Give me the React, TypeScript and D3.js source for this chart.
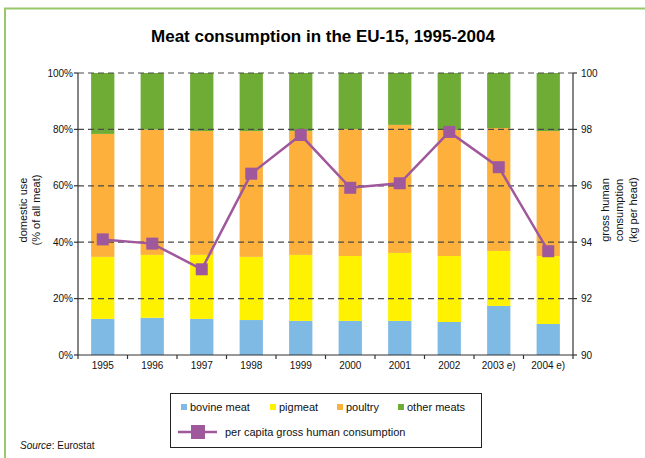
import React from "react";
import * as d3 from "d3";

const years = ["1995", "1996", "1997", "1998", "1999", "2000", "2001", "2002", "2003 e)", "2004 e)"];
// shares of all meat, %
const bovine = [12.8, 13.2, 12.8, 12.4, 12.1, 12.1, 12.1, 11.7, 17.4, 11.0];
const pigmeat = [22.0, 22.3, 22.7, 22.4, 23.4, 23.0, 24.1, 23.4, 19.5, 24.1];
const poultry = [43.6, 44.4, 43.9, 44.6, 43.9, 45.0, 45.4, 44.7, 43.6, 44.3];
const otherMeats = [21.6, 20.1, 20.6, 20.6, 20.6, 19.9, 18.4, 20.2, 19.5, 20.6];
// kg per head
const perCapita = [94.1, 93.95, 93.04, 96.43, 97.8, 95.93, 96.09, 97.91, 96.66, 93.68];

const leftTicks = [0, 20, 40, 60, 80, 100];
const rightTicks = [90, 92, 94, 96, 98, 100];

const seriesNames = ["bovine meat", "pigmeat", "poultry", "other meats"];
const colors = ["#7fbae4", "#fff200", "#fdb03b", "#6fac35"];
const lineColor = "#a0589c";

const W = 645;
const H = 458;
const m = { left: 78, right: 573, top: 73, bottom: 355 };
const font = "'Liberation Sans', Arial, sans-serif";

export default function App() {
  const x = d3.scaleBand().domain(years).range([m.left, m.right]).paddingInner(0.53).paddingOuter(0.265);
  const y = d3.scaleLinear().domain([0, 100]).range([m.bottom, m.top]);
  const y2 = d3.scaleLinear().domain([90, 100]).range([m.bottom, m.top]);
  const step = x.step();

  const rows = years.map((yr, i) => ({
    year: yr,
    "bovine meat": bovine[i],
    pigmeat: pigmeat[i],
    poultry: poultry[i],
    "other meats": otherMeats[i],
  }));
  const stacked = d3.stack<any>().keys(seriesNames)(rows);

  const line = d3
    .line<number>()
    .x((_, i) => (x(years[i]) as number) + x.bandwidth() / 2)
    .y((d) => y2(d));

  const bandEdges = d3.range(years.length + 1).map((i) => m.left + (i * (m.right - m.left)) / years.length);

  const legendItems = [
    { name: "bovine meat", sx: 181, tx: 190 },
    { name: "pigmeat", sx: 270, tx: 279 },
    { name: "poultry", sx: 337, tx: 346 },
    { name: "other meats", sx: 398, tx: 407 },
  ];

  return (
    <svg width={W} height={H} style={{ position: "absolute", left: 0, top: 0, fontFamily: font }}>
      <rect x={0} y={0} width={W} height={H} fill="#fff" />
      <path d={`M5,${H} V8.5 H${W}`} fill="none" stroke="#98c86a" strokeWidth={2} />

      <text x={323} y={42} textAnchor="middle" fontSize={17} fontWeight="bold" fill="#000">
        Meat consumption in the EU-15, 1995-2004
      </text>

      {/* bars */}
      {stacked.map((s, si) => (
        <g key={s.key} fill={colors[si]}>
          {s.map((d, i) => (
            <rect
              key={i}
              x={x(years[i])}
              y={y(d[1])}
              width={x.bandwidth()}
              height={y(d[0]) - y(d[1])}
            />
          ))}
        </g>
      ))}

      {/* dashed grid */}
      {leftTicks.slice(1).map((t) => (
        <line key={t} x1={m.left} x2={m.right} y1={y(t)} y2={y(t)} stroke="#4a4a4a" strokeWidth={1.2} strokeDasharray="6,4" />
      ))}

      {/* axes */}
      <g stroke="#333" strokeWidth={1.2}>
        <line x1={m.left} x2={m.left} y1={m.top} y2={m.bottom} />
        <line x1={m.right} x2={m.right} y1={m.top} y2={m.bottom} />
        <line x1={m.left} x2={m.right} y1={m.bottom} y2={m.bottom} />
        {leftTicks.map((t) => (
          <line key={"l" + t} x1={m.left - 4} x2={m.left} y1={y(t)} y2={y(t)} />
        ))}
        {rightTicks.map((t) => (
          <line key={"r" + t} x1={m.right} x2={m.right + 4} y1={y2(t)} y2={y2(t)} />
        ))}
        {bandEdges.map((e, i) => (
          <line key={"b" + i} x1={e} x2={e} y1={m.bottom} y2={m.bottom + 4} />
        ))}
      </g>

      <g fontSize={10} fill="#111">
        {leftTicks.map((t) => (
          <text key={t} x={m.left - 5} y={y(t) + 3.5} textAnchor="end">
            {t}%
          </text>
        ))}
        {rightTicks.map((t) => (
          <text key={t} x={m.right + 8} y={y2(t) + 3.5}>
            {t}
          </text>
        ))}
        {years.map((yr) => (
          <text key={yr} x={(x(yr) as number) + x.bandwidth() / 2} y={369} textAnchor="middle">
            {yr}
          </text>
        ))}
      </g>

      <g fontSize={11} fill="#111" textAnchor="middle">
        <text transform="translate(27,210) rotate(-90)">domestic use</text>
        <text transform="translate(40,210) rotate(-90)">(% of all meat)</text>
        <text transform="translate(609,210) rotate(-90)">gross human</text>
        <text transform="translate(623,210) rotate(-90)">consumption</text>
        <text transform="translate(637,210) rotate(-90)">(kg per head)</text>
      </g>

      {/* per capita line */}
      <path d={line(perCapita) || ""} fill="none" stroke={lineColor} strokeWidth={2.5} />
      {perCapita.map((v, i) => (
        <rect
          key={i}
          x={(x(years[i]) as number) + x.bandwidth() / 2 - 6}
          y={y2(v) - 6}
          width={12}
          height={12}
          fill={lineColor}
        />
      ))}

      {/* legend */}
      <rect x={170.5} y={393.5} width={311} height={54} fill="#fff" stroke="#222" strokeWidth={1} />
      <g fontSize={11} fill="#111">
        {legendItems.map((it, i) => (
          <g key={it.name}>
            <rect x={it.sx} y={404} width={6} height={6} fill={colors[i]} />
            <text x={it.tx} y={411}>
              {it.name}
            </text>
          </g>
        ))}
        <line x1={178} x2={217} y1={432} y2={432} stroke={lineColor} strokeWidth={2.5} />
        <rect x={191} y={425} width={14} height={14} fill={lineColor} />
        <text x={225} y={436}>
          per capita gross human consumption
        </text>
      </g>

      <text x={20} y={449} fontSize={10} fill="#111">
        <tspan fontStyle="italic">Source</tspan>: Eurostat
      </text>
    </svg>
  );
}
